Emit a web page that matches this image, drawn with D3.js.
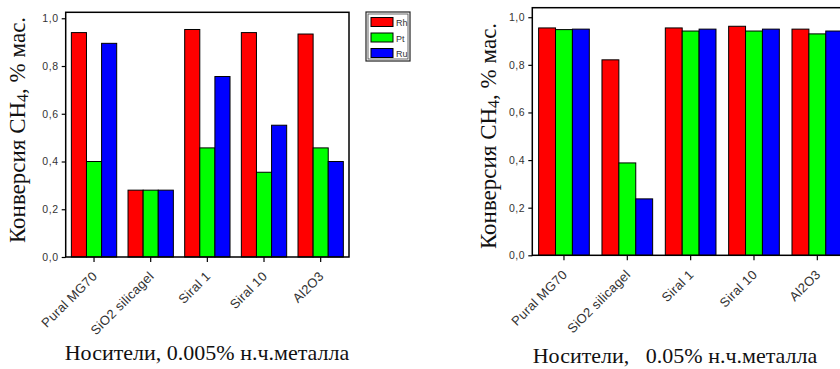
<!DOCTYPE html>
<html>
<head>
<meta charset="utf-8">
<script src="https://cdn.jsdelivr.net/npm/d3@7"></script>
<style>
  html, body { margin: 0; padding: 0; background: #fff; }
  svg { display: block; }
</style>
</head>
<body>
<div id="chart"></div>
<script>
const categories = ['Pural MG70', 'SiO2 silicagel', 'Siral 1', 'Siral 10', 'Al2O3'];
const metals = ['Rh', 'Pt', 'Ru'];
const metalColors = ['#ff0000', '#00ff00', '#0000ff'];
const yTicks = [0, 0.2, 0.4, 0.6, 0.8, 1.0];

// 0.005% metal
const rhLow = [0.94, 0.28, 0.953, 0.94, 0.934];
const ptLow = [0.40, 0.28, 0.457, 0.355, 0.457];
const ruLow = [0.895, 0.28, 0.756, 0.552, 0.40];

// 0.05% metal
const rhHigh = [0.955, 0.821, 0.955, 0.962, 0.95];
const ptHigh = [0.948, 0.388, 0.942, 0.942, 0.93];
const ruHigh = [0.95, 0.237, 0.95, 0.95, 0.942];

const W = 840, H = 369;
const svg = d3.select('#chart').append('svg')
  .attr('width', W).attr('height', H);

const serif = '"Liberation Serif", "Times New Roman", serif';
const sans = '"Liberation Sans", Arial, sans-serif';

function drawPanel(opts) {
  const { series, xRange, yRange, yMax, titleX, titleY, xTitle, xTitleX, xTitleY } = opts;
  const g = svg.append('g');

  const x = d3.scaleBand()
    .domain(categories)
    .range(xRange)
    .paddingInner(0.2)
    .paddingOuter(0.1);

  const xs = d3.scaleBand()
    .domain(metals)
    .range([0, x.bandwidth()]);

  const y = d3.scaleLinear()
    .domain([0, yMax])
    .range(yRange);

  const rows = [];
  categories.forEach((c, i) => {
    metals.forEach((m, j) => rows.push({ cat: c, metal: m, color: metalColors[j], value: series[j][i] }));
  });

  g.selectAll('.bar')
    .data(rows)
    .join('rect')
    .attr('class', 'bar')
    .attr('x', d => x(d.cat) + xs(d.metal))
    .attr('y', d => y(d.value))
    .attr('width', xs.bandwidth())
    .attr('height', d => y(0) - y(d.value))
    .attr('fill', d => d.color)
    .attr('stroke', '#000')
    .attr('stroke-width', 1);

  // frame
  g.append('rect')
    .attr('x', xRange[0])
    .attr('y', y(yMax))
    .attr('width', xRange[1] - xRange[0])
    .attr('height', y(0) - y(yMax))
    .attr('fill', 'none')
    .attr('stroke', '#000')
    .attr('stroke-width', 1.5);

  const yAxis = g.append('g')
    .attr('transform', `translate(${xRange[0]},0)`)
    .call(d3.axisLeft(y).tickValues(yTicks).tickSize(4).tickPadding(3)
      .tickFormat(d => d3.format('.1f')(d).replace('.', ',')));
  yAxis.select('.domain').remove();
  yAxis.selectAll('line').attr('stroke', '#000').attr('stroke-width', 1.2);
  yAxis.selectAll('text')
    .attr('font-family', sans)
    .attr('font-size', 10.5)
    .attr('letter-spacing', 0.6)
    .attr('fill', '#333');

  const xAxis = g.append('g')
    .attr('transform', `translate(0,${y(0)})`)
    .call(d3.axisBottom(x).tickSize(5).tickFormat(''));
  xAxis.select('.domain').remove();
  xAxis.selectAll('line').attr('stroke', '#000').attr('stroke-width', 1.2);

  g.selectAll('.cat-label')
    .data(categories)
    .join('text')
    .attr('class', 'cat-label')
    .attr('transform', d => `translate(${x(d) + x.bandwidth() / 2 + 4},${y(0) + 20}) rotate(-45)`)
    .attr('text-anchor', 'end')
    .attr('font-family', sans)
    .attr('font-size', 13)
    .attr('letter-spacing', 0.3)
    .attr('fill', '#333')
    .text(d => d);

  const yt = g.append('text')
    .attr('transform', `translate(${titleX},${titleY}) rotate(-90)`)
    .attr('text-anchor', 'middle')
    .attr('font-family', serif)
    .attr('font-size', 23)
    .attr('fill', '#111')
    .attr('xml:space', 'preserve');
  yt.append('tspan').text('Конверсия CH');
  yt.append('tspan').attr('font-size', 16).attr('dy', 3).text('4');
  yt.append('tspan').attr('dy', -3).text(', % мас.');

  g.append('text')
    .attr('x', xTitleX)
    .attr('y', xTitleY)
    .attr('text-anchor', 'middle')
    .attr('font-family', serif)
    .attr('font-size', 22)
    .attr('fill', '#111')
    .style('white-space', 'pre')
    .text(xTitle);

  return g;
}

drawPanel({
  series: [rhLow, ptLow, ruLow],
  xRange: [65.7, 349],
  yRange: [257, 12.3],
  yMax: 1.025,
  titleX: 25,
  titleY: 130,
  xTitle: 'Носители, 0.005% н.ч.металла',
  xTitleX: 207,
  xTitleY: 360
});

drawPanel({
  series: [rhHigh, ptHigh, ruHigh],
  xRange: [532.3, 849],
  yRange: [255.3, 7.7],
  yMax: 1.04,
  titleX: 496,
  titleY: 136,
  xTitle: 'Носители,   0.05% н.ч.металла',
  xTitleX: 675,
  xTitleY: 363
});

// legend (left panel only)
const legend = svg.append('g').attr('transform', 'translate(366,12)');
legend.append('rect')
  .attr('width', 44).attr('height', 49)
  .attr('fill', '#fff')
  .attr('stroke', '#222').attr('stroke-width', 1.2);
legend.append('rect')
  .attr('x', 2).attr('y', 2)
  .attr('width', 40).attr('height', 45)
  .attr('fill', 'none')
  .attr('stroke', '#444').attr('stroke-width', 0.8);

const items = legend.selectAll('.item')
  .data(metals)
  .join('g')
  .attr('class', 'item')
  .attr('transform', (d, i) => `translate(5,${5.5 + i * 15.5})`);
items.append('rect')
  .attr('width', 22).attr('height', 9)
  .attr('fill', (d, i) => metalColors[i])
  .attr('stroke', '#000').attr('stroke-width', 1);
items.append('text')
  .attr('x', 25).attr('y', 8.5)
  .attr('font-family', sans)
  .attr('font-size', 9)
  .attr('fill', '#333')
  .text(d => d);
</script>
</body>
</html>
